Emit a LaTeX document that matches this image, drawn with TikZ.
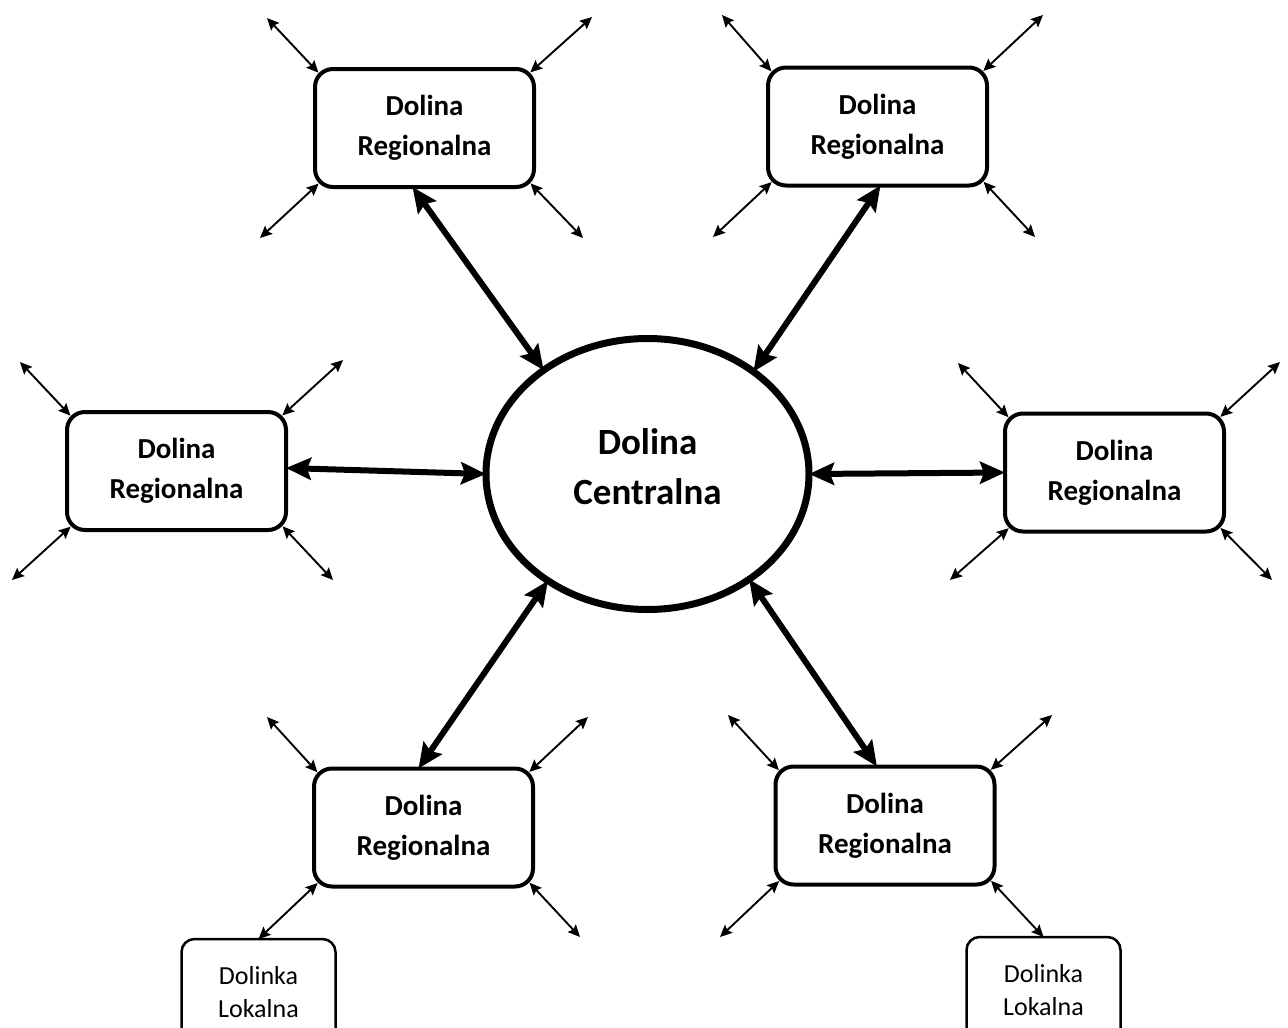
\documentclass[tikz,border=0pt]{standalone}
\usepackage{fontspec}
\setmainfont{Carlito}
\usetikzlibrary{arrows.meta,calc,shapes.geometric}
\begin{document}
\begin{tikzpicture}[x=1pt,y=-1pt,
  region/.style={draw,line width=4pt,rounded corners=18pt,minimum width=219pt,minimum height=118pt,
    align=center,font=\bfseries\fontsize{29}{40}\selectfont,inner sep=0pt,outer sep=0pt},
  local/.style={draw,line width=2.5pt,rounded corners=13pt,minimum width=154pt,minimum height=106pt,
    align=center,font=\fontsize{26}{33}\selectfont,inner sep=0pt,outer sep=0pt},
  central/.style={draw,ellipse,line width=7pt,minimum width=323pt,minimum height=271pt,
    align=center,font=\bfseries\fontsize{37}{50}\selectfont,inner sep=0pt,outer sep=0pt,text depth=14pt},
  big/.style={{Stealth[length=25pt,width=22pt,inset=4pt]}-{Stealth[length=25pt,width=22pt,inset=4pt]},line width=6pt},
  small/.style={{Stealth[length=12pt,width=11pt,inset=2pt]}-{Stealth[length=12pt,width=11pt,inset=2pt]},line width=1.9pt},
  corner/.style={small,shorten >=-5pt},
]
\useasboundingbox (0,0) rectangle (1288,1028);
\clip (0,0) rectangle (1288,1028);

% central
\node[central] (C) at (647.5,474) {Dolina\\Centralna};

% regional boxes
\node[region] (tl) at (424.5,128) {Dolina\\Regionalna};
\node[region] (tr) at (877.5,126.5) {Dolina\\Regionalna};
\node[region] (l)  at (176.5,471) {Dolina\\Regionalna};
\node[region] (r)  at (1114.5,472.5) {Dolina\\Regionalna};
\node[region] (bl) at (423.5,827.5) {Dolina\\Regionalna};
\node[region] (br) at (885,825.5) {Dolina\\Regionalna};

% local boxes
\node[local] (ll) at (258.5,992) {Dolinka\\Lokalna};
\node[local] (lr) at (1043.5,990) {Dolinka\\Lokalna};

% thick connectors
\draw[big] ($(tl.south)+(-12,0)$) -- (C.135);
\draw[big] ($(tr.south)+(3,0)$) -- (C.44);
\draw[big] ($(l.east)+(0,-3)$) -- (C.west);
\draw[big] (C.east) -- (r.west);
\draw[big] (C.227) -- ($(bl.north)+(-5,0)$);
\draw[big] (C.314) -- ($(br.north)+(-8,0)$);

% free ends of the corner arrows
\coordinate (tl1) at (267,18);   \coordinate (tl2) at (592,17);
\coordinate (tl3) at (260,238);  \coordinate (tl4) at (583,238);
\coordinate (tr1) at (722,15);   \coordinate (tr2) at (1043,15);
\coordinate (tr3) at (713,237);  \coordinate (tr4) at (1035,237);
\coordinate (l1) at (20,362);    \coordinate (l2) at (343,360);
\coordinate (l3) at (12,580);    \coordinate (l4) at (333,580);
\coordinate (r1) at (958,363);   \coordinate (r2) at (1280,362);
\coordinate (r3) at (950,580);   \coordinate (r4) at (1272,580);
\coordinate (bl1) at (267,717);  \coordinate (bl2) at (588,717);
\coordinate (bl4) at (580,937);
\coordinate (br1) at (728,715);  \coordinate (br2) at (1052,715);
\coordinate (br3) at (720,937);

\foreach \b in {tl,tr,l,r}{
  \draw[corner] (\b1) -- (\b.north west);
  \draw[corner] (\b2) -- (\b.north east);
  \draw[corner] (\b3) -- (\b.south west);
  \draw[corner] (\b4) -- (\b.south east);
}
\draw[corner] (bl1) -- (bl.north west);
\draw[corner] (bl2) -- (bl.north east);
\draw[corner] (bl4) -- (bl.south east);
\draw[small,shorten <=-5pt] (bl.south west) -- (ll.north);
\draw[corner] (br1) -- (br.north west);
\draw[corner] (br2) -- (br.north east);
\draw[corner] (br3) -- (br.south west);
\draw[small,shorten <=-5pt] (br.south east) -- (lr.north);
\end{tikzpicture}
\end{document}
